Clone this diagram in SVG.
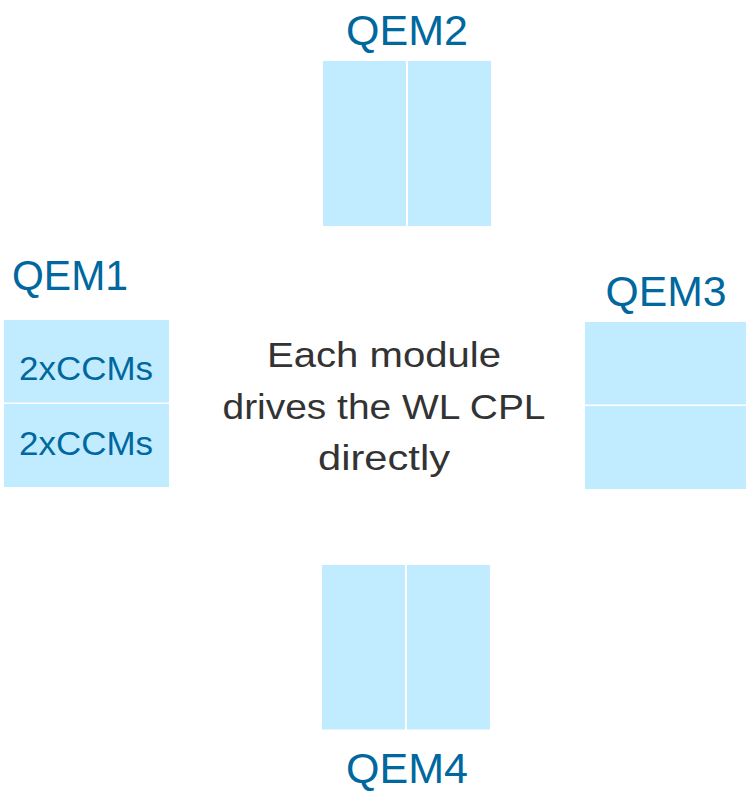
<svg xmlns="http://www.w3.org/2000/svg" width="746" height="791" viewBox="0 0 746 791">
<style>
.cell{fill:#C1ECFF}
.lbl{font-family:"Liberation Sans",Arial,sans-serif;fill:#00689E;font-size:43px}
.sub{font-family:"Liberation Sans",Arial,sans-serif;fill:#00689E;font-size:34px;text-anchor:middle}
.note{font-family:"Liberation Sans",Arial,sans-serif;fill:#333333;font-size:35px;text-anchor:middle}
</style>
<rect width="746" height="791" fill="#FFFFFF"/>
<g id="qem1">
<text class="lbl" x="12" y="290" textLength="116" lengthAdjust="spacingAndGlyphs">QEM1</text>
<rect class="cell" x="4" y="320" width="165" height="82.5"/>
<rect class="cell" x="4" y="404" width="165" height="83"/>
<text class="sub" x="86" y="380" textLength="134" lengthAdjust="spacingAndGlyphs">2xCCMs</text>
<text class="sub" x="86" y="454.5" textLength="134" lengthAdjust="spacingAndGlyphs">2xCCMs</text>
</g>
<g id="qem2">
<text class="lbl" x="346" y="45" textLength="122" lengthAdjust="spacingAndGlyphs">QEM2</text>
<rect class="cell" x="323" y="61" width="83" height="165"/>
<rect class="cell" x="408" y="61" width="83" height="165"/>
</g>
<g id="qem3">
<text class="lbl" x="605.5" y="305.5" textLength="121" lengthAdjust="spacingAndGlyphs">QEM3</text>
<rect class="cell" x="585" y="322" width="161" height="82.5"/>
<rect class="cell" x="585" y="406" width="161" height="83"/>
</g>
<g id="qem4">
<rect class="cell" x="322" y="565" width="83" height="164.5"/>
<rect class="cell" x="407" y="565" width="83" height="164.5"/>
<text class="lbl" x="346" y="783" textLength="122" lengthAdjust="spacingAndGlyphs">QEM4</text>
</g>
<g id="note">
<text class="note" x="384" y="367" textLength="234" lengthAdjust="spacingAndGlyphs">Each module</text>
<text class="note" x="384" y="418.5" textLength="323" lengthAdjust="spacingAndGlyphs">drives the WL CPL</text>
<text class="note" x="384" y="470" textLength="132" lengthAdjust="spacingAndGlyphs">directly</text>
</g>
<g id="connectors"></g>
</svg>
